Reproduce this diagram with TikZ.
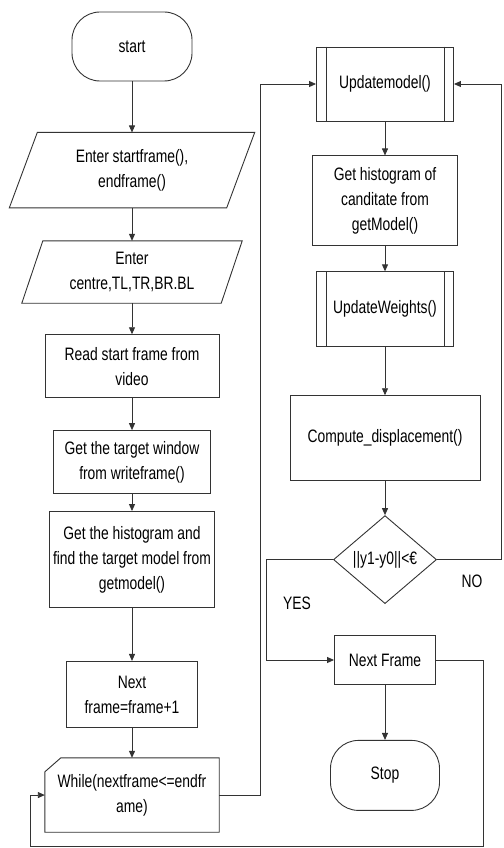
\documentclass[tikz,border=0pt]{standalone}
\usepackage{fontspec}
\setmainfont[FakeStretch=0.77]{Liberation Sans}
\usepackage{tikz}
\usetikzlibrary{shapes.geometric, arrows.meta, positioning}

\begin{document}
\begin{tikzpicture}[
  x=1pt, y=1pt,
  every node/.style={font=\fontsize{18}{25}\selectfont, text=black},
  term/.style={rectangle, rounded corners=28pt, draw=black!80, line width=0.9pt, align=center},
  io/.style={rectangle, align=center},
  block/.style={rectangle, draw=black!80, line width=0.9pt, align=center},
  subproc/.style={rectangle, draw=black!80, line width=0.9pt, align=center},
  card/.style={rectangle, align=center},
  decision/.style={diamond, aspect=1.17, inner sep=0pt, draw=black!80, line width=0.9pt, align=center},
  line/.style={draw=black!80, line width=0.9pt},
  arrow/.style={-{Triangle[length=7pt,width=6pt]}, draw=black!80, line width=0.9pt}
]
\useasboundingbox (0,0) rectangle (503,-848);

% Left column
\node[term, minimum width=120pt, minimum height=69pt] (start) at (132,-46.5) {start};
\node[io, below=51pt of start, minimum width=245pt, minimum height=75pt] (enter1) {Enter startframe(),\\endframe()};
\node[io, below=33pt of enter1, minimum width=220pt, minimum height=62pt] (enter2) {Enter\\centre,TL,TR,BR.BL};
\node[block, below=31pt of enter2, minimum width=174pt, minimum height=63pt] (read) {Read start frame from\\video};
\node[block, below=32pt of read, minimum width=157pt, minimum height=63pt] (window) {Get the target window\\from writeframe()};
\node[block, below=17pt of window, minimum width=163pt, minimum height=96pt] (model) {Get the histogram and\\find the target model from\\getmodel()};
\node[block, below=53pt of model, minimum width=131pt, minimum height=66pt] (next) {Next\\frame=frame+1};
\node[card, below=30pt of next, minimum width=174pt, minimum height=74pt] (while) {While(nextframe<=endfr\\ame)};

% Right column
\node[subproc, minimum width=137pt, minimum height=74pt] (upd) at (385,-84) {Updatemodel()};
\node[block, below=34pt of upd, minimum width=145pt, minimum height=90pt] (cand) {Get histogram of\\canditate from\\getModel()};
\node[subproc, below=25pt of cand, minimum width=137pt, minimum height=75pt] (wts) {UpdateWeights()};
\node[block, below=48pt of wts, minimum width=190pt, minimum height=85pt] (disp) {Compute\_displacement()};
\node[decision, below=34pt of disp, minimum width=103pt, minimum height=88pt] (check) {||y1-y0||<€};
\node[block, below=31pt of check, minimum width=101pt, minimum height=49pt] (nf) {Next Frame};
\node[term, below=55pt of nf, minimum width=109pt, minimum height=70pt] (stop) {Stop};

% slanted input boxes
\foreach \n/\s in {enter1/28,enter2/21}
  \draw[line] ([xshift=\s pt]\n.north west) -- (\n.north east)
              -- ([xshift=-\s pt]\n.south east) -- (\n.south west) -- cycle;

% loop box with the cut corner
\draw[line] ([xshift=16pt]while.north west) -- (while.north east) -- (while.south east)
            -- (while.south west) -- ([yshift=-14pt]while.north west) -- cycle;

% double sides of the sub-process boxes
\foreach \n in {upd,wts}
  \draw[line] ([xshift=10pt]\n.north west) -- ([xshift=10pt]\n.south west)
              ([xshift=-10pt]\n.north east) -- ([xshift=-10pt]\n.south east);

% Labels
\node (yes) at (297,-603) {YES};
\node (no) at (472,-581) {NO};
\coordinate (loop) at (30,-846);

% Arrows
\draw[arrow] (start) -- (enter1);
\draw[arrow] (enter1) -- (enter2);
\draw[arrow] (enter2) -- (read);
\draw[arrow] (read) -- (window);
\draw[arrow] (window) -- (model);
\draw[arrow] (model) -- (next);
\draw[arrow] (next) -- (while);
\draw[arrow] (while.east) -- ++(41,0) |- (upd.west);
\draw[arrow] (upd) -- (cand);
\draw[arrow] (cand) -- (wts);
\draw[arrow] (wts) -- (disp);
\draw[arrow] (disp) -- (check);
\draw[arrow] (check.west) -- ++(-67,0) |- (nf.west);
\draw[arrow] (check.east) -- ++(64.5,0) |- (upd.east);
\draw[arrow] (nf) -- (stop);
\draw[arrow] (nf.east) -- ++(47,0) |- (loop) |- (while.west);

\end{tikzpicture}
\end{document}
